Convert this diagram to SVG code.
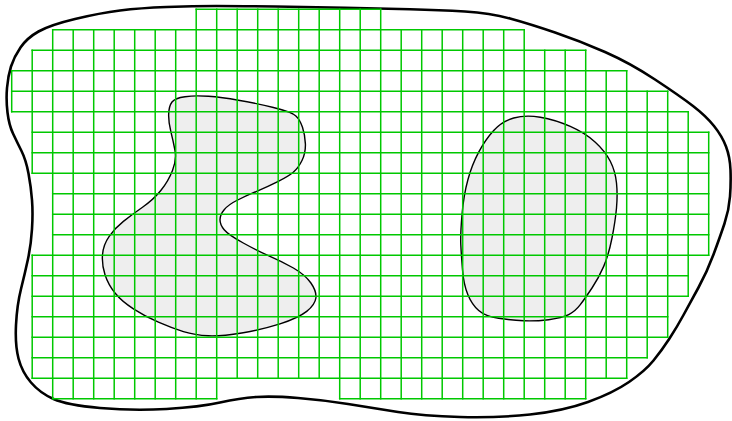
<svg xmlns="http://www.w3.org/2000/svg" width="732" height="421" viewBox="0 0 732 421">
<style>
.outline{fill:none;stroke:#000;stroke-width:2.6;stroke-linejoin:round}
.blob{fill:#eeeeee;stroke:#000;stroke-width:1.4;stroke-linejoin:round}
.grid{fill:none;stroke:#00c800;stroke-width:1.5;stroke-linecap:square}
</style>
<rect width="732" height="421" fill="#fff"/>
<g id="boundary">
<path class="outline" d="M166.5,7 Q193,6 216.5,6 Q240,6 275,6.5 Q310,7 345,7.75 Q380,8.5 410,9.25 Q440,10 465,11.5 Q490,13 510,18.5 Q530,24 555,32.5 Q580,41 605,52 Q630,63 655,79.5 Q680,96 693,106 Q706,116 714,126 Q722,136 726,146.5 Q730,157 730.5,170 Q731,183 730,196.5 Q729,210 724.5,223.5 Q720,237 713.5,254.5 Q707,272 698.5,287.5 Q690,303 683.5,315 Q677,327 669.5,338.5 Q662,350 653.5,360.5 Q645,371 629,382 Q613,393 588,402 Q563,411 530,414.5 Q497,418 460,417 Q423,416 398,412 Q373,408 348,404 Q323,400 298,398 Q273,396 256.5,397 Q240,398 220,402.5 Q200,407 166.5,409 Q133,411 100,408 Q67,405 53.5,399 Q40,393 31,382.5 Q22,372 18.5,358.5 Q15,345 16,325 Q17,305 21,289 Q25,273 28,259 Q31,245 32,229 Q33,213 32,200 Q31,187 28.5,173.5 Q26,160 21.5,151 Q17,142 13,133.5 Q9,125 7.5,112.5 Q6,100 7,88 Q8,76 11,66.5 Q14,57 20.5,47.5 Q27,38 38.5,31.5 Q50,25 75,19 Q100,13 120,10.5 Q140,8 166.5,7 Z"/>
</g>
<g id="hole-left">
<path class="blob" d="M168.7,113.7 Q169,106 172,102 Q175,98 185,96.7 Q195,95.3 208.4,96.3 Q221.7,97.3 238.4,100.2 Q255,103 273.4,107.5 Q291.7,112 295.9,115.9 Q300,119.7 302.5,127.2 Q305,134.7 305.4,143.9 Q305.7,153 302,160.5 Q298.3,168 293.3,172.2 Q288.3,176.3 278.3,181.3 Q268.3,186.3 256.7,191.3 Q245,196.3 236.7,200.5 Q228.3,204.7 224.2,209.7 Q220,214.7 220,219.7 Q220,224.7 224.2,229.7 Q228.3,234.7 243.3,243 Q258.3,251.3 270,256.3 Q281.7,261.3 293.4,268 Q305,274.7 310.9,283 Q316.7,291.3 315.9,298 Q315,304.7 306.7,311.4 Q298.3,318 280,323.9 Q261.7,329.7 241.7,333 Q221.7,336.3 208.4,335.8 Q195,335.3 183.4,331.7 Q171.7,328 158.4,322.2 Q145,316.3 133.4,308.8 Q121.7,301.3 115,293 Q108.3,284.7 105,274.7 Q101.7,264.7 102.5,254.7 Q103.3,244.7 109.2,236.4 Q115,228 123.4,221.4 Q131.7,214.7 142.5,207.2 Q153.3,199.7 160.8,190.5 Q168.3,181.3 172.5,170.5 Q176.7,159.7 175,150.5 Q173.3,141.3 170.8,131.3 Q168.3,121.3 168.7,113.7 Z"/>
</g>
<g id="hole-right">
<path class="blob" d="M513.7,118 Q525.3,114.7 540.3,117.2 Q555.3,119.7 570.3,126.4 Q585.3,133 595.3,142.2 Q605.3,151.3 610.3,161.3 Q615.3,171.3 616.5,183 Q617.7,194.7 616.5,208 Q615.3,221.3 612,238 Q608.7,254.7 603.7,266.4 Q598.7,278 592,288 Q585.3,298 580.3,304.7 Q575.3,311.3 568.7,314.7 Q562,318 548.7,319.7 Q535.3,321.3 523.7,320.8 Q512,320.3 498.7,318.3 Q485.3,316.3 478.7,310.5 Q472,304.7 467.9,294.7 Q463.7,284.7 462.5,269.7 Q461.3,254.7 460.8,244.7 Q460.3,234.7 462,214.7 Q463.7,194.7 467.9,179.7 Q472,164.7 478.7,152.2 Q485.3,139.7 493.7,130.5 Q502,121.3 513.7,118 Z"/>
</g>
<g id="grid" transform="translate(11.7,9.3) scale(20.5)">
<path class="grid" vector-effect="non-scaling-stroke" d="M9 0H18 M2 1H25 M1 2H28 M0 3H30 M0 4H32 M0 5H33 M1 6H34 M1 7H34 M1 8H34 M2 9H34 M2 10H34 M2 11H34 M1 12H34 M1 13H33 M1 14H33 M1 15H32 M1 16H32 M1 17H31 M1 18H30 M2 19H10 M16 19H28"/>
<path class="grid" vector-effect="non-scaling-stroke" d="M0 3V5 M1 2V8 M1 12V18 M2 1V19 M3 1V19 M4 1V19 M5 1V19 M6 1V19 M7 1V19 M8 1V19 M9 0V19 M10 0V19 M11 0V18 M12 0V18 M13 0V18 M14 0V18 M15 0V18 M16 0V19 M17 0V19 M18 0V19 M19 1V19 M20 1V19 M21 1V19 M22 1V19 M23 1V19 M24 1V19 M25 1V19 M26 2V19 M27 2V19 M28 2V19 M29 3V18 M30 3V18 M31 4V17 M32 4V16 M33 5V14 M34 6V12"/>
</g>
</svg>
